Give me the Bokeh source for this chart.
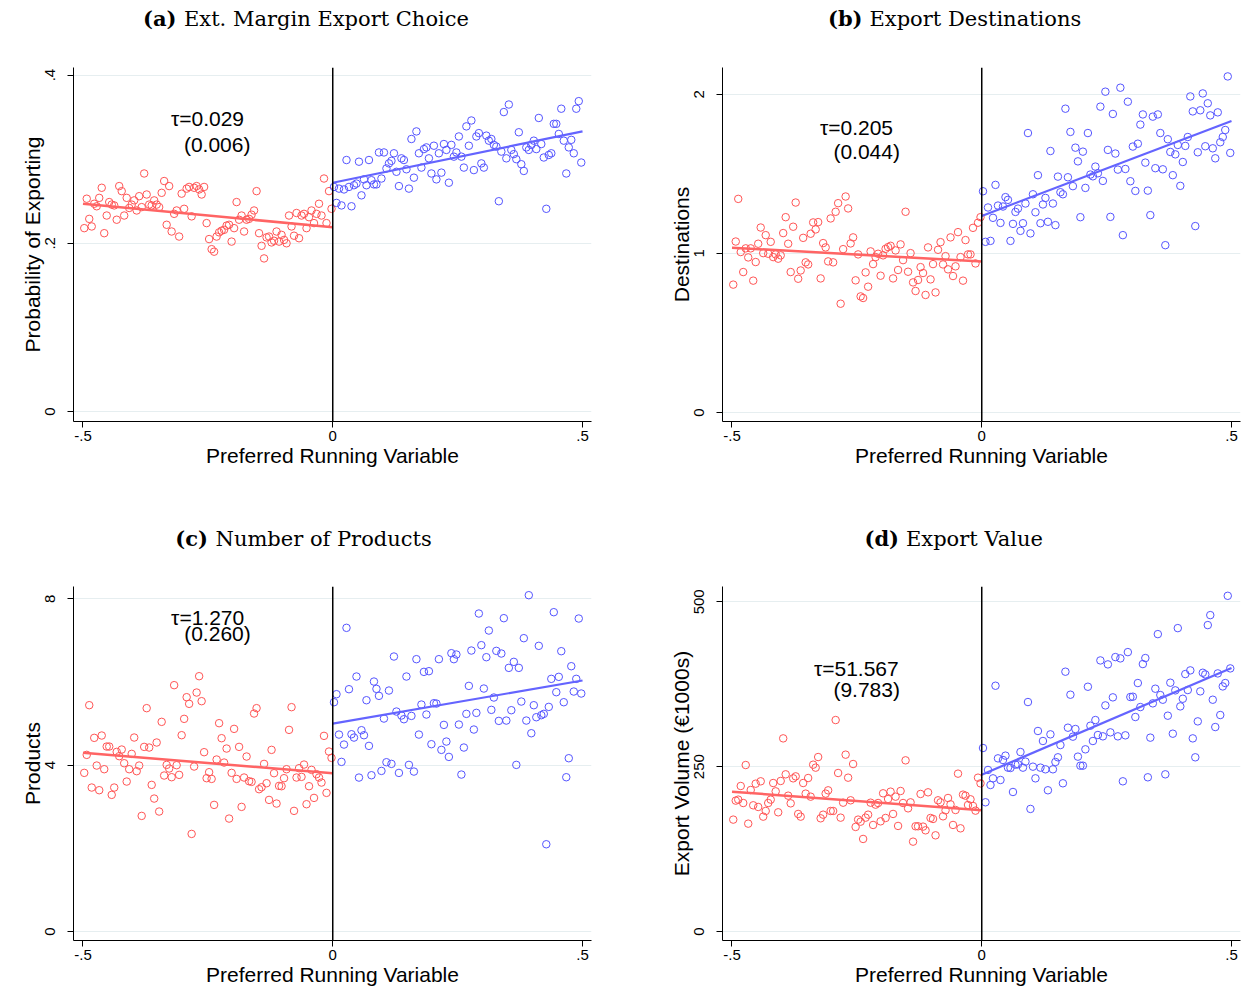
from bokeh.plotting import figure
from bokeh.layouts import column, row
from bokeh.models import Range1d, FixedTicker, Span
from bokeh.core.properties import value
from bokeh.embed import file_html
from bokeh.resources import INLINE

# ---------------- data ----------------
# bin centres of the running variable (100 bins of width 0.005 on each side of the cutoff)
x_left = [round(-0.4975 + 0.005 * i, 4) for i in range(100)]
x_right = [round(0.0025 + 0.005 * i, 4) for i in range(100)]

x_ticks = [-0.5, 0, 0.5]
x_tick_labels = {-0.5: "-.5", 0: "0", 0.5: ".5"}
x_title = "Preferred Running Variable"

tags = ["(a)", "(b)", "(c)", "(d)"]
titles = ["Ext. Margin Export Choice", "Export Destinations", "Number of Products", "Export Value"]
y_titles = ["Probability of Exporting", "Destinations", "Products", "Export Volume (\u20ac1000s)"]
taus = ["\u03c4=0.029", "\u03c4=0.205", "\u03c4=1.270", "\u03c4=51.567"]
ses = ["(0.006)", "(0.044)", "(0.260)", "(9.783)"]

# (a) probability of exporting
a_left = [
    0.218, 0.253, 0.229, 0.220, 0.247, 0.244, 0.254, 0.266, 0.212, 0.233,
    0.249, 0.246, 0.245, 0.228, 0.268, 0.262, 0.233, 0.254, 0.242, 0.246,
    0.251, 0.239, 0.256, 0.243, 0.283, 0.258, 0.246, 0.245, 0.251, 0.246,
    0.243, 0.260, 0.274, 0.222, 0.268, 0.214, 0.235, 0.239, 0.208, 0.259,
    0.241, 0.265, 0.267, 0.232, 0.266, 0.268, 0.264, 0.258, 0.267, 0.224,
    0.205, 0.193, 0.190, 0.208, 0.213, 0.215, 0.216, 0.221, 0.222, 0.202,
    0.218, 0.249, 0.228, 0.233, 0.214, 0.228, 0.229, 0.234, 0.239, 0.262,
    0.212, 0.197, 0.182, 0.207, 0.208, 0.201, 0.203, 0.214, 0.202, 0.210,
    0.204, 0.200, 0.233, 0.220, 0.209, 0.236, 0.206, 0.233, 0.235, 0.218,
    0.231, 0.239, 0.224, 0.235, 0.247, 0.233, 0.277, 0.224, 0.262, 0.241]
a_right = [
    0.267, 0.248, 0.265, 0.245, 0.264, 0.299, 0.267, 0.244, 0.269, 0.271,
    0.297, 0.257, 0.276, 0.269, 0.299, 0.275, 0.270, 0.270, 0.308, 0.277,
    0.308, 0.289, 0.295, 0.298, 0.307, 0.285, 0.268, 0.301, 0.299, 0.288,
    0.265, 0.324, 0.278, 0.333, 0.307, 0.290, 0.312, 0.314, 0.301, 0.283,
    0.316, 0.276, 0.307, 0.284, 0.318, 0.311, 0.272, 0.317, 0.303, 0.308,
    0.327, 0.303, 0.290, 0.339, 0.316, 0.346, 0.287, 0.327, 0.331, 0.295,
    0.290, 0.328, 0.322, 0.324, 0.317, 0.315, 0.250, 0.309, 0.356, 0.301,
    0.365, 0.311, 0.306, 0.300, 0.332, 0.294, 0.286, 0.314, 0.311, 0.317,
    0.322, 0.312, 0.349, 0.318, 0.302, 0.241, 0.305, 0.307, 0.342, 0.342,
    0.330, 0.360, 0.322, 0.283, 0.314, 0.323, 0.307, 0.360, 0.369, 0.296]
a_fit_left = [0.247, 0.219]
a_fit_right = [0.272, 0.333]

# (b) destinations
b_left = [
    0.804, 1.075, 1.343, 1.009, 0.883, 1.032, 0.975, 1.032, 0.829, 0.946,
    1.061, 1.163, 1.002, 1.115, 0.998, 1.073, 0.977, 0.994, 0.967, 0.988,
    1.128, 1.228, 1.061, 0.883, 1.168, 1.320, 0.841, 0.893, 1.098, 0.944,
    0.931, 1.124, 1.195, 1.151, 1.197, 0.843, 1.065, 1.038, 0.950, 1.220,
    0.944, 1.262, 1.316, 0.684, 1.027, 1.358, 1.283, 1.063, 1.101, 0.831,
    0.994, 0.730, 0.720, 0.881, 0.791, 1.013, 0.933, 0.977, 0.998, 0.860,
    0.988, 1.029, 1.040, 1.048, 0.843, 1.019, 0.896, 1.057, 0.958, 1.262,
    0.885, 1.002, 0.818, 0.764, 0.833, 0.914, 0.877, 0.739, 1.038, 0.837,
    0.933, 0.755, 1.023, 1.071, 0.931, 0.983, 0.900, 1.101, 0.858, 0.919,
    1.134, 0.977, 0.829, 1.084, 0.994, 0.994, 1.161, 0.937, 1.193, 1.228]
b_right = [
    1.391, 1.073, 1.289, 1.079, 1.224, 1.431, 1.301, 1.192, 1.295, 1.354,
    1.337, 1.079, 1.186, 1.261, 1.282, 1.142, 1.190, 1.314, 1.757, 1.126,
    1.372, 1.259, 1.492, 1.190, 1.308, 1.349, 1.199, 1.644, 1.314, 1.178,
    1.483, 1.385, 1.372, 1.910, 1.479, 1.764, 1.423, 1.665, 1.579, 1.228,
    1.640, 1.412, 1.757, 1.496, 1.485, 1.546, 1.504, 1.923, 1.456, 2.017,
    1.651, 1.230, 1.877, 1.628, 1.527, 2.042, 1.115, 1.531, 1.954, 1.454,
    1.672, 1.393, 1.690, 1.810, 1.874, 1.571, 1.395, 1.241, 1.860, 1.536,
    1.874, 1.757, 1.529, 1.052, 1.718, 1.638, 1.492, 1.623, 1.682, 1.425,
    1.575, 1.676, 1.732, 1.987, 1.893, 1.172, 1.636, 1.900, 2.006, 1.674,
    1.944, 1.868, 1.661, 1.598, 1.887, 1.699, 1.732, 1.776, 2.113, 1.632]
b_fit_left = [1.036, 0.950]
b_fit_right = [1.236, 1.833]

# (c) products
c_left = [
    3.815, 4.248, 5.443, 3.462, 4.657, 3.991, 3.398, 4.713, 3.903, 4.448,
    4.448, 3.286, 3.462, 4.320, 4.216, 4.376, 4.047, 3.606, 3.903, 4.272,
    4.665, 3.855, 3.991, 2.780, 4.440, 5.371, 4.424, 3.526, 3.197, 4.545,
    2.885, 5.042, 3.751, 4.007, 3.919, 3.711, 5.924, 3.999, 3.767, 4.721,
    5.114, 5.635, 5.475, 2.347, 3.967, 5.747, 6.140, 5.539, 4.312, 3.687,
    3.831, 3.670, 3.045, 4.136, 5.010, 4.649, 4.063, 4.400, 2.716, 3.815,
    4.873, 3.670, 4.440, 2.997, 3.703, 4.208, 3.614, 3.598, 5.242, 5.371,
    3.422, 3.470, 4.031, 3.566, 3.165, 4.368, 3.807, 3.077, 3.502, 3.494,
    3.687, 3.903, 4.849, 5.395, 2.901, 3.703, 3.927, 3.719, 4.015, 3.061,
    3.494, 3.887, 3.213, 3.783, 3.703, 3.582, 4.705, 3.334, 4.328, 4.176]
c_right = [
    5.514, 5.707, 4.736, 4.079, 4.496, 7.303, 5.827, 4.744, 4.664, 6.132,
    3.702, 4.841, 4.720, 5.562, 4.464, 3.758, 6.011, 5.835, 5.667, 3.862,
    5.121, 4.071, 5.795, 4.031, 6.613, 5.290, 3.814, 5.194, 5.105, 6.132,
    4.007, 5.185, 3.846, 6.549, 4.736, 5.458, 6.244, 5.218, 6.260, 4.504,
    5.490, 5.482, 6.549, 4.368, 4.969, 4.568, 4.199, 6.693, 6.549, 6.661,
    4.977, 3.774, 4.424, 5.234, 5.907, 6.757, 4.857, 5.258, 7.647, 6.886,
    5.843, 6.597, 7.238, 5.330, 5.627, 6.749, 5.065, 6.685, 7.535, 5.073,
    6.340, 5.322, 6.485, 4.007, 6.340, 5.530, 7.054, 5.073, 8.088, 4.768,
    5.442, 5.153, 6.870, 5.202, 5.234, 2.098, 5.402, 6.076, 7.679, 5.755,
    6.124, 6.741, 5.514, 3.710, 4.167, 6.380, 5.771, 6.076, 7.527, 5.723]
c_fit_left = [4.296, 3.807]
c_fit_right = [5.001, 6.036]

# (d) export value
d_left = [
    169.7, 198.5, 200.0, 220.7, 194.9, 252.5, 163.6, 214.6, 191.4, 224.2,
    188.9, 227.8, 174.2, 182.8, 194.9, 200.0, 225.2, 212.6, 180.8, 228.3,
    292.9, 238.4, 206.0, 194.4, 232.3, 235.3, 178.3, 174.2, 225.2, 209.1,
    232.8, 204.5, 253.0, 248.5, 264.6, 171.7, 177.2, 209.1, 214.1, 182.8,
    182.8, 320.7, 240.4, 172.7, 195.4, 268.2, 233.3, 199.0, 254.0, 158.6,
    169.7, 166.6, 140.4, 172.7, 177.2, 195.4, 161.6, 192.4, 194.9, 167.1,
    209.6, 172.2, 201.0, 212.1, 178.3, 204.5, 160.1, 213.1, 194.9, 259.6,
    186.8, 195.9, 136.3, 159.6, 159.6, 208.6, 159.1, 153.5, 211.1, 172.2,
    170.7, 145.9, 199.0, 195.9, 174.7, 183.8, 202.5, 192.9, 161.6, 184.3,
    239.4, 156.5, 207.6, 206.0, 191.9, 200.5, 190.4, 183.3, 233.3, 224.7]
d_right = [
    278.3, 196.0, 245.0, 222.2, 232.3, 372.7, 262.6, 229.8, 260.1, 266.7,
    248.5, 248.0, 211.6, 253.0, 253.5, 272.2, 248.5, 257.6, 348.0, 185.9,
    250.0, 232.3, 304.1, 248.5, 288.9, 246.0, 214.2, 299.0, 246.0, 257.1,
    264.2, 282.8, 224.8, 394.0, 309.1, 359.1, 295.5, 307.1, 265.2, 251.5,
    251.5, 276.3, 371.2, 312.1, 288.9, 320.7, 298.0, 411.1, 296.0, 342.9,
    405.1, 302.0, 355.1, 416.2, 296.0, 414.2, 227.8, 297.5, 423.7, 355.6,
    356.1, 325.3, 376.8, 340.4, 405.6, 414.7, 233.9, 294.0, 346.0, 368.2,
    451.0, 358.6, 351.5, 238.4, 327.3, 377.3, 300.0, 365.7, 460.1, 341.4,
    353.0, 390.4, 366.2, 396.0, 292.9, 264.2, 318.7, 364.2, 392.4, 389.9,
    464.7, 479.8, 351.5, 310.1, 391.4, 328.3, 371.7, 376.8, 509.1, 399.0]
d_fit_left = [212.1, 183.8]
d_fit_right = [237.9, 399.5]

fit_x_left = [-0.5, 0.0]
fit_x_right = [0.0, 0.5]

y_ticks = [[0, 0.2, 0.4], [0, 1, 2], [0, 4, 8], [0, 250, 500]]
y_tick_labels = [{0: "0", 0.2: ".2", 0.4: ".4"}, {0: "0", 1: "1", 2: "2"},
                 {0: "0", 4: "4", 8: "8"}, {0: "0", 250: "250", 500: "500"}]

# ---------------- style ----------------
RED = "#ff5555"
BLUE = "#5555ff"
RED_LINE = "#ff6464"
BLUE_LINE = "#6464ff"
GRID = "#e6eef0"
SANS = "Liberation Sans"
SERIF = "DejaVu Serif"


def panel(k, width, b_left, b_right, height, b_top, b_bottom, y_range,
          yl, yr, fl, fr, tau_xy, se_xy):
    p = figure(width=width, height=height,
               x_range=Range1d(-0.519, 0.518), y_range=Range1d(*y_range),
               output_backend="svg", toolbar_location=None,
               min_border_left=b_left, min_border_right=b_right,
               min_border_top=b_top, min_border_bottom=b_bottom)
    p.outline_line_color = None
    p.background_fill_color = "white"
    p.border_fill_color = "white"
    p.xgrid.visible = False
    p.ygrid.ticker = FixedTicker(ticks=y_ticks[k])
    p.ygrid.grid_line_color = GRID
    p.ygrid.grid_line_width = 1

    p.xaxis.ticker = FixedTicker(ticks=x_ticks)
    p.xaxis.major_label_overrides = x_tick_labels
    p.yaxis.ticker = FixedTicker(ticks=y_ticks[k])
    p.yaxis.major_label_overrides = y_tick_labels[k]
    p.yaxis.major_label_orientation = "vertical"
    p.xaxis.axis_label = x_title
    p.yaxis.axis_label = y_titles[k]
    for ax in (p.xaxis[0], p.yaxis[0]):
        ax.axis_line_color = "black"
        ax.axis_line_width = 1
        ax.major_tick_line_color = "black"
        ax.major_tick_out = 6
        ax.major_tick_in = 0
        ax.minor_tick_line_color = None
        ax.major_label_text_font = SANS
        ax.major_label_text_font_size = "15px"
        ax.major_label_text_color = "black"
        ax.axis_label_text_font = SANS
        ax.axis_label_text_font_size = "21px"
        ax.axis_label_text_font_style = "normal"
        ax.axis_label_text_color = "black"
    p.xaxis.major_label_standoff = 3
    p.xaxis.axis_label_standoff = 0
    p.yaxis.major_label_standoff = 12
    p.yaxis.axis_label_standoff = -1

    p.add_layout(Span(location=0, dimension="height", line_color="black", line_width=1.5))

    p.scatter(x_left, yl, marker="circle", size=7.5, fill_color=None,
              line_color=RED, line_width=1)
    p.scatter(x_right, yr, marker="circle", size=7.5, fill_color=None,
              line_color=BLUE, line_width=1)
    p.line(fit_x_left, fl, line_color=RED_LINE, line_width=2.5)
    p.line(fit_x_right, fr, line_color=BLUE_LINE, line_width=2.2)

    p.text(x=[tau_xy[0], se_xy[0]], y=[tau_xy[1], se_xy[1]], text=[taus[k], ses[k]],
           text_font=value(SANS), text_font_size="21px", text_color="black",
           text_align="left", text_baseline="middle")
    return p


def strip(h, items):
    s = figure(width=1252, height=h, x_range=Range1d(0, 1252), y_range=Range1d(h, 0),
               output_backend="svg", toolbar_location=None, min_border=0,
               x_axis_location=None, y_axis_location=None)
    s.grid.visible = False
    s.outline_line_color = None
    s.background_fill_color = "white"
    s.border_fill_color = "white"
    xs_tag = [it[0] for it in items]
    xs_txt = [it[1] for it in items]
    ys = [it[2] for it in items]
    ks = [it[3] for it in items]
    s.text(x=xs_tag, y=ys, text=[tags[k] for k in ks], text_font=value(SERIF),
           text_font_style="bold", text_font_size="21px", text_color="black",
           text_align="right", text_baseline="alphabetic")
    s.text(x=xs_txt, y=ys, text=[titles[k] for k in ks], text_font=value(SERIF),
           text_font_size="21px", text_color="black",
           text_align="left", text_baseline="alphabetic")
    return s


top_titles = strip(50, [(176.0, 183.5, 18.0, 0), (862.0, 869.0, 18.0, 1)])
bottom_titles = strip(70, [(207.5, 215.0, 38.0, 2), (898.5, 905.5, 38.0, 3)])

pa = panel(0, 620, 73, 29, 450, 17, 79, (-0.0119, 0.409), a_left, a_right,
           a_fit_left, a_fit_right, (-0.324, 0.348), (-0.298, 0.318))
pb = panel(1, 632, 102, 12, 450, 17, 79, (-0.0565, 2.169), b_left, b_right,
           b_fit_left, b_fit_right, (-0.324, 1.789), (-0.297, 1.642))
pc = panel(2, 620, 73, 29, 420, 16, 50, (-0.2165, 8.297), c_left, c_right,
           c_fit_left, c_fit_right, (-0.3236, 7.559), (-0.2974, 7.160))
pd = panel(3, 632, 102, 12, 420, 16, 50, (-13.6, 523.2), d_left, d_right,
           d_fit_left, d_fit_right, (-0.336, 398.9), (-0.297, 367.7))

layout = column(top_titles, row(pa, pb), bottom_titles, row(pc, pd))

open("out.html", "w").write(file_html(layout, INLINE))
